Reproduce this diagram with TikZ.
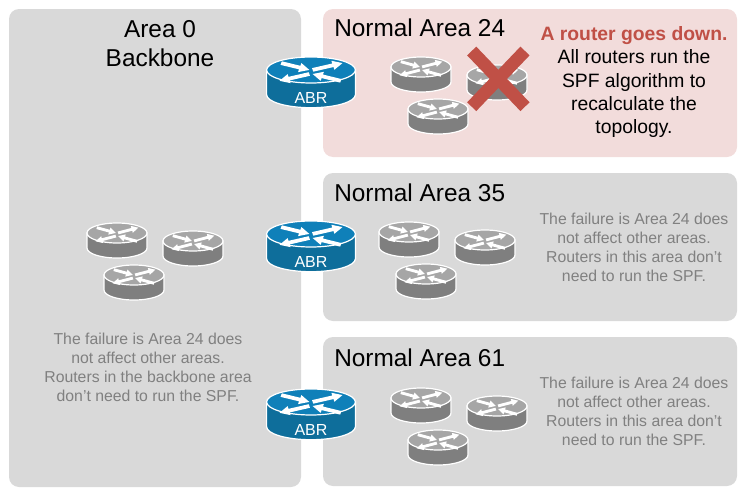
\documentclass[tikz,border=0pt]{standalone}
\usepackage{fontspec}
\setmainfont{Liberation Sans}
\definecolor{panelgray}{RGB}{217,217,217}
\definecolor{panelpink}{RGB}{242,220,219}
\definecolor{crossred}{RGB}{192,80,70}
\definecolor{notegray}{RGB}{128,128,128}
\definecolor{topgray}{RGB}{166,166,166}
\definecolor{sidegray}{RGB}{127,127,127}
\definecolor{topblue}{RGB}{15,128,185}
\definecolor{sideblue}{RGB}{14,110,155}
\newcommand{\routericon}[3]{% top colour, side colour, body height
\draw[white,line width=0.9pt,fill=#2] (-30,0) -- (-30,#3) arc (180:0:30 and 10) -- (30,0) -- cycle;
\draw[white,line width=0.9pt,fill=#1] (0,0) ellipse (30 and 10);
\begin{scope}[shift={(0,1.5)},xscale=1.12,yscale=1.05]
\foreach \s in {1,-1} {
\fill[white,xscale=\s,yscale=\s] (-18.4,-5.2) -- (-7.2,-1.9) -- (-7.8,0.1) -- (-1,-1.5) -- (-5.8,-6.5) -- (-6.4,-4.5) -- (-17.6,-7.8) -- cycle;
\fill[white,xscale=\s,yscale=\s] (1.4,-0.2) -- (13.6,-3.6) -- (14.1,-1.6) -- (19,-6.5) -- (12.3,-8.2) -- (12.8,-6.2) -- (0.6,-2.8) -- cycle;
}
\end{scope}
}
\newcommand{\router}[2]{\begin{scope}[shift={(#1,#2)}]\routericon{topgray}{sidegray}{15}\end{scope}}
\newcommand{\abrrouter}[3]{%
\begin{scope}[shift={(#1,#2)},xscale=1.48,yscale=1.3]\routericon{topblue}{sideblue}{19}\end{scope}
\node[abrtext] (#3) at (#1,#2+28) {ABR};}
\newcommand{\routergroup}[2]{\router{#1}{#2} \router{#1+76}{#2+8} \router{#1+17}{#2+42}}
\tikzset{
panel/.style={fill=panelgray,rounded corners=7.5},
areatitle/.style={anchor=base west,inner sep=0pt,font=\fontsize{18.3}{22}\selectfont},
notetext/.style={align=center,text=notegray,inner sep=0pt,font=\fontsize{11.85}{14.3}\selectfont},
abrtext/.style={text=white,inner sep=0pt,font=\fontsize{12}{14}\selectfont},
}
\begin{document}
\begin{tikzpicture}[x=0.75pt,y=-0.75pt]
\useasboundingbox (0,0) rectangle (751,500);
% panels
\fill[panel] (9,9) rectangle (301,487);
\fill[panel,fill=panelpink] (323,9) rectangle (737,157);
\fill[panel] (323,173) rectangle (737,321);
\fill[panel] (323,337) rectangle (737,486);
% titles
\node[align=center,inner sep=0pt,font=\fontsize{18.3}{21.8}\selectfont] (backbone) at (160,44) {Area 0\\Backbone};
\node[areatitle] (area24) at (334,36) {Normal Area 24};
\node[areatitle] (area35) at (334,201) {Normal Area 35};
\node[areatitle] (area61) at (334,366) {Normal Area 61};
% routers
\routergroup{421}{67}
\routergroup{117}{233}
\routergroup{409}{232}
\routergroup{421}{398}
\abrrouter{311}{70}{abrA}
\abrrouter{311}{234}{abrB}
\abrrouter{311}{402}{abrC}
% failed router
\draw[crossred,line width=9.5pt] (471.7,51) -- (525,106.7);
\draw[crossred,line width=9.5pt] (525,51) -- (471.7,106.7);
% notes
\node[align=center,inner sep=0pt,font=\fontsize{14.5}{17.6}\selectfont] (failnote) at (634,82) {\textcolor{crossred}{\textbf{A router goes down.}}\\All routers run the\\SPF algorithm to\\recalculate the\\topology.};
\node[notetext] (note35) at (634,247) {The failure is Area 24 does\\not affect other areas.\\Routers in this area don’t\\need to run the SPF.};
\node[notetext] (note61) at (634,411) {The failure is Area 24 does\\not affect other areas.\\Routers in this area don’t\\need to run the SPF.};
\node[notetext] (note0) at (148,367) {The failure is Area 24 does\\not affect other areas.\\Routers in the backbone area\\don’t need to run the SPF.};
\end{tikzpicture}
\end{document}
